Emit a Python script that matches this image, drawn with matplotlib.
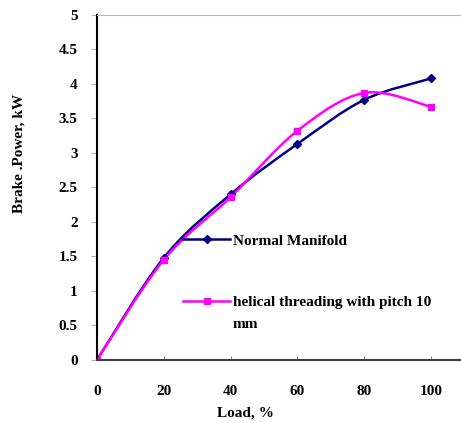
import matplotlib.pyplot as plt
from matplotlib.path import Path
from matplotlib.patches import PathPatch
from matplotlib.lines import Line2D

plt.rcParams["font.family"] = ["Liberation Serif", "DejaVu Serif"]
plt.rcParams["font.weight"] = "bold"
plt.rcParams["axes.labelweight"] = "bold"
plt.rcParams["font.size"] = 11

load = [0, 20, 40, 60, 80, 100]
normal = [0, 1.48, 2.40, 3.13, 3.77, 4.08]
helical = [0, 1.45, 2.36, 3.32, 3.87, 3.67]

navy = "#000080"
pink = "#ff00ff"


def smooth_path(xs, ys):
    # bezier segments through the points, like a spreadsheet "smoothed line"
    pts = list(zip(xs, ys))
    n = len(pts)
    verts = [pts[0]]
    codes = [Path.MOVETO]
    for i in range(n - 1):
        p0 = pts[i - 1] if i > 0 else pts[i]
        p1 = pts[i]
        p2 = pts[i + 1]
        p3 = pts[i + 2] if i + 2 < n else pts[i + 1]
        c1 = (p1[0] + (p2[0] - p0[0]) / 6, p1[1] + (p2[1] - p0[1]) / 6)
        c2 = (p2[0] - (p3[0] - p1[0]) / 6, p2[1] - (p3[1] - p1[1]) / 6)
        verts += [c1, c2, p2]
        codes += [Path.CURVE4] * 3
    return Path(verts, codes)


fig = plt.figure(figsize=(4.61, 4.23), dpi=100)
ax = fig.add_axes([0.2104, 0.149, 0.7896, 0.8156])

for ys, col in [(normal, navy), (helical, pink)]:
    ax.add_patch(PathPatch(smooth_path(load, ys), fill=False, edgecolor=col, lw=1.8))

ax.plot(load, normal, ls="none", marker="D", ms=4, color=navy)
ax.plot(load, helical, ls="none", marker="s", ms=5, color=pink)

ax.set_xlim(0, 109)
ax.set_ylim(0, 5)
ax.set_xticks([0, 20, 40, 60, 80, 100])
ax.set_yticks([0, 0.5, 1, 1.5, 2, 2.5, 3, 3.5, 4, 4.5, 5])
ax.set_yticklabels(["0", "0.5", "1", "1.5", "2", "2.5", "3", "3.5", "4", "4.5", "5"])
ax.tick_params(axis="x", direction="in", length=3, color="#808080", pad=18)
ax.tick_params(axis="y", direction="out", length=4, color="#b0b0b0", pad=10)

ax.spines["right"].set_visible(False)
ax.spines["top"].set_color("#b8b8b8")
ax.spines["left"].set_linewidth(1.5)
ax.spines["bottom"].set_color("#404040")
ax.spines["bottom"].set_linewidth(1.5)

ax.set_xlabel("Load, %")
ax.xaxis.set_label_coords(0.407, -0.136)
ax.set_ylabel("Brake .Power, kW")
ax.yaxis.set_label_coords(-0.195, 0.6)

h1 = Line2D([], [], color=navy, lw=1.8, marker="D", ms=4)
h2 = Line2D([], [], color=pink, lw=1.8, marker="s", ms=5)
leg1 = ax.legend([h1], ["Normal Manifold"], loc="center left", frameon=False,
                 bbox_to_anchor=(0.236, 0.345), handlelength=3.1, handletextpad=0.2,
                 borderpad=0, borderaxespad=0)
ax.add_artist(leg1)
ax.legend([h2], ["helical threading with pitch 10"], loc="center left", frameon=False,
          bbox_to_anchor=(0.236, 0.168), handlelength=3.1, handletextpad=0.2,
          borderpad=0, borderaxespad=0)
# second line of the wrapped legend label
ax.text(0.3736, 0.104, "mm", transform=ax.transAxes, ha="left", va="center")

plt.savefig("out.png", dpi=100)
